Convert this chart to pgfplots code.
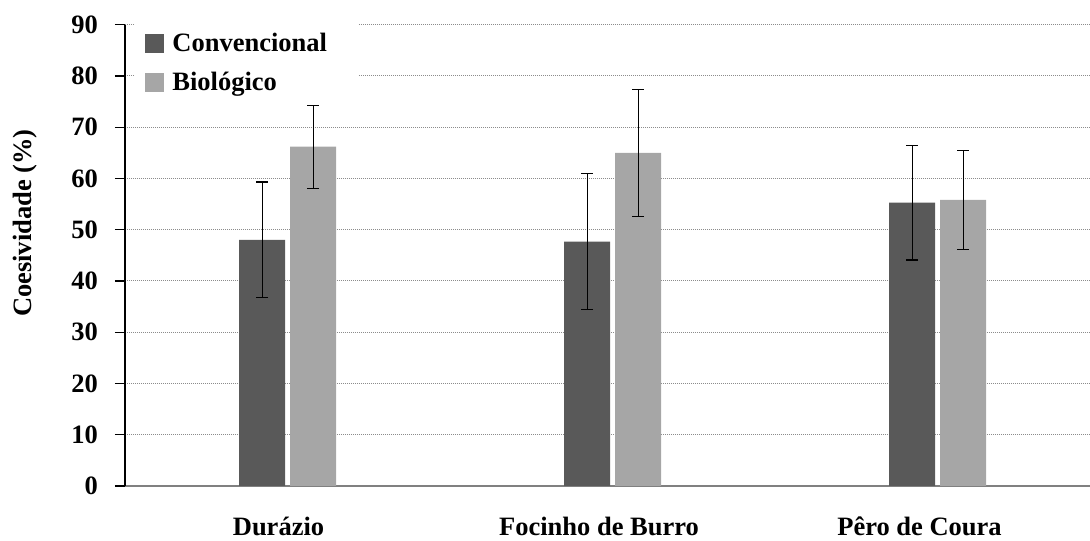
\documentclass[border=0pt]{standalone}
\usepackage{fontspec}
\setmainfont{Liberation Serif}
\usepackage{pgfplots}
\pgfplotsset{compat=1.18}

\definecolor{conv}{HTML}{595959}
\definecolor{bio}{HTML}{A6A6A6}
\definecolor{gridc}{HTML}{8C8C8C}
\definecolor{basec}{HTML}{808080}

\newcommand{\lbl}{\fontsize{13.3}{16}\selectfont\bfseries}

\begin{document}
\begin{tikzpicture}
\begin{axis}[
  scale only axis,
  width=482.5bp, height=230.65bp,
  xmin=-0.5, xmax=2.469,
  ymin=0, ymax=90,
  ytick={0,10,...,90},
  xtick={0,1,2},
  xticklabels={Durázio, Focinho de Burro, Pêro de Coura},
  minor xtick={-0.5,0.5,1.5},
  axis x line*=bottom, axis y line*=left,
  x axis line style={basec, line width=0.7bp, -},
  y axis line style={black, line width=0.6bp, -},
  ytick style={black, line width=0.6bp},
  xtick style={draw=none},
  minor x tick style={basec, line width=0.7bp},
  tick align=outside,
  major tick length=5bp,
  minor tick length=3.5bp,
  ymajorgrids,
  major grid style={gridc, line width=0.5bp, dash pattern=on 0.6bp off 0.4bp},
  ybar=2.5bp, bar width=23bp,
  /pgf/number format/assume math mode=true,
  tick label style={font=\lbl},
  xticklabel style={yshift=-7bp, xshift={-4.5bp-2.25bp*\ticknum}},
  yticklabel style={xshift=-5bp},
  ylabel={Coesividade (\%)},
  ylabel style={font=\lbl,
    at={(axis description cs:-0.1036,0.57)}, anchor=center},
  legend cell align=left,
  legend style={draw=none, fill=white, at={(0.0104,1.008)}, anchor=north west,
    font=\lbl, inner xsep=5bp, inner ysep=3.5bp, row sep=4bp,
    nodes={text height=9.5bp, text depth=2bp, inner ysep=2bp}},
  legend image code/.code={\fill[#1] (0bp,-4.75bp) rectangle (9.5bp,4.75bp);
    \path (11.5bp,0bp);},
  error bars/y dir=both, error bars/y explicit,
  error bars/error bar style={black, line width=0.5bp},
  error bars/error mark options={rotate=90, mark size=3bp, line width=0.6bp},
]
\addplot[fill=conv, draw=none] coordinates {
  (0,48.0) +- (0,11.3)
  (1,47.7) +- (0,13.3)
  (2,55.3) +- (0,11.2)
};
\addplot[fill=bio, draw=none] coordinates {
  (0,66.2) +- (0,8.1)
  (1,65.0) +- (0,12.4)
  (2,55.8) +- (0,9.7)
};
\legend{\makebox[86bp][l]{Convencional}, \makebox[86bp][l]{Biológico}}
\coordinate (O) at (rel axis cs:0,0);
\end{axis}
\pgfresetboundingbox
\path (O) ++(-62.5bp,-27.5bp) rectangle ++(545bp,270.5bp);
\end{tikzpicture}
\end{document}
